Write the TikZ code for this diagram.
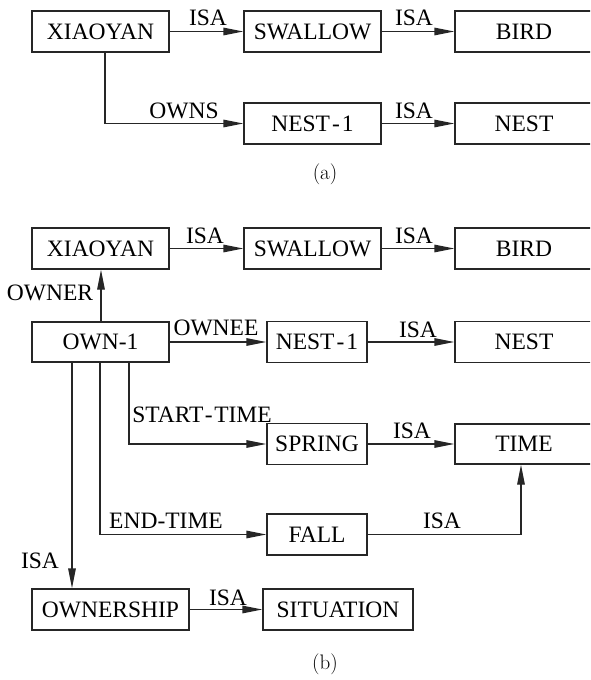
\documentclass[tikz,border=0pt]{standalone}
\usepackage{fontspec}
\newfontfamily\labfont{Liberation Serif}
\usetikzlibrary{arrows.meta}
\begin{document}
\begin{tikzpicture}[x=1pt,y=-1pt,
  ink/.style={draw=black!85, line width=1.3pt},
  box/.style={ink, rectangle, inner sep=0pt, minimum height=41pt,
    font=\labfont\fontsize{23.5}{28}\selectfont, text=black},
  arr/.style={ink, -{Triangle[length=20pt,width=7.5pt]}},
  lab/.style={anchor=base, inner sep=0pt, font=\labfont\fontsize{23.5}{28}\selectfont},
  captext/.style={font=\fontsize{21}{25}\selectfont, inner sep=0pt}
]
\clip (0,0) rectangle (590,680);

% ---------- (a) ----------
\node[box, minimum width=137pt] (xa)  at (100.5,31.5) {XIAOYAN};
\node[box, minimum width=137pt] (sa)  at (312.5,31.5) {SWALLOW};
\node[box, minimum width=138pt] (ba)  at (524,31.5)   {BIRD};
\node[box, minimum width=137pt] (n1a) at (312.5,123.5) {NEST\kern2pt-\kern2pt1};
\node[box, minimum width=138pt] (na)  at (524,123.5)  {NEST};

\draw[arr] (xa) -- (sa);
\draw[arr] (sa) -- (ba);
\draw[arr] ([xshift=4.5pt]xa.south) |- (n1a.west);
\draw[arr] (n1a) -- (na);

\node[lab] (la1) at (208,25)  {ISA};
\node[lab] (la2) at (414,25)  {ISA};
\node[lab] (la3) at (184,118) {OWNS};
\node[lab] (la4) at (414,118) {ISA};

\node[captext] (capa) at (325,174) {(a)};

% ---------- (b) ----------
\node[box, minimum width=137pt] (xb)   at (100.5,248.5) {XIAOYAN};
\node[box, minimum width=137pt] (sb)   at (312.5,248.5) {SWALLOW};
\node[box, minimum width=138pt] (bb)   at (524,248.5)   {BIRD};
\node[box, minimum width=137pt, minimum height=40pt] (ob) at (100.5,342) {OWN-1};
\node[box, minimum width=100pt] (n1b)  at (317,342)  {NEST\kern2pt-\kern2pt1};
\node[box, minimum width=138pt] (nb)   at (524,342)  {NEST};
\node[box, minimum width=100pt] (spb)  at (317,444)  {SPRING};
\node[box, minimum width=138pt, minimum height=40pt] (tb) at (524,444) {TIME};
\node[box, minimum width=100pt] (fb)   at (317,534.5) {FALL};
\node[box, minimum width=157pt] (osb)  at (110.5,609.5) {OWNERSHIP};
\node[box, minimum width=150pt] (sitb) at (338,609.5)  {SITUATION};

\draw[arr] (xb) -- (sb);
\draw[arr] (sb) -- (bb);
\draw[arr] ([xshift=0.5pt]ob.north) -- ([xshift=0.5pt]xb.south);
\draw[arr] (ob) -- (n1b);
\draw[arr] (n1b) -- (nb);
\draw[arr] ([xshift=28.5pt]ob.south) |- (spb.west);
\draw[arr] (spb) -- (tb);
\draw[arr] ([xshift=-0.5pt]ob.south) |- (fb.west);
\draw[arr] (fb.east) -| ([xshift=-3pt]tb.south);
\draw[arr] ([xshift=-28.5pt]ob.south) -- ([xshift=-28.5pt]ob.south |- osb.north);
\draw[arr] (osb) -- (sitb);

\node[lab] (lb1)  at (205,243) {ISA};
\node[lab] (lb2)  at (414,243) {ISA};
\node[lab] (lb3)  at (50,300)  {OWNER};
\node[lab] (lb4)  at (216,335) {OWNEE};
\node[lab] (lb5)  at (418,337) {ISA};
\node[lab] (lb6)  at (202,422) {START\kern1.5pt-\kern1.5ptTIME};
\node[lab] (lb7)  at (412,438) {ISA};
\node[lab] (lb8)  at (166,528) {END-TIME};
\node[lab] (lb9)  at (442,528) {ISA};
\node[lab] (lb10) at (40,568)  {ISA};
\node[lab] (lb11) at (228,605) {ISA};

\node[captext] (capb) at (325,664) {(b)};
\end{tikzpicture}
\end{document}
